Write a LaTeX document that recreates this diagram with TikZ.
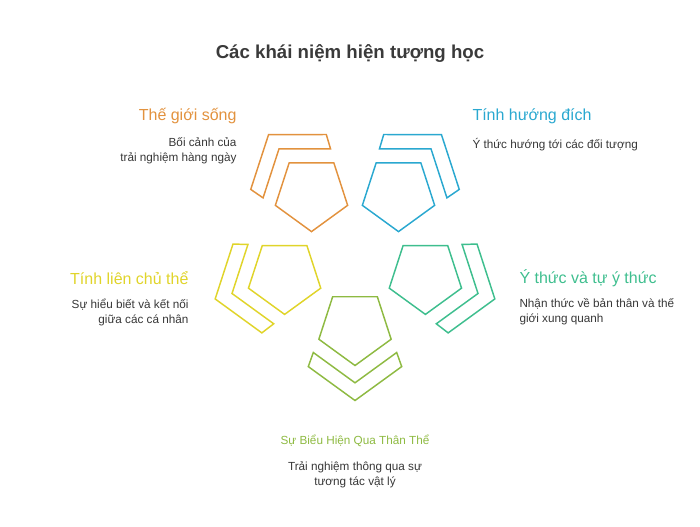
\documentclass[tikz,border=0pt]{standalone}
\usepackage{fontspec}
\setmainfont{Liberation Sans}
\usepackage{tikz}
\definecolor{titlegray}{RGB}{58,58,58}
\definecolor{notegray}{RGB}{55,55,55}
\definecolor{worldorange}{RGB}{226,146,62}
\definecolor{intentblue}{RGB}{42,168,208}
\definecolor{interyellow}{RGB}{224,212,42}
\definecolor{selfgreen}{RGB}{62,190,142}
\definecolor{bodyolive}{RGB}{142,186,66}
\tikzset{every picture/.style={line width=0.75pt}}

\begin{document}
\begin{tikzpicture}[x=0.75pt,y=0.75pt,yscale=-1,xscale=1,
    petal/.style={line width=1.1pt, line join=miter},
    heading/.style={inner sep=0.75pt, font=\fontsize{12}{14}\selectfont},
    note/.style={inner sep=0.75pt, font=\fontsize{8.8}{11.25}\selectfont, color=notegray}]
      \useasboundingbox (0,0) rectangle (700,527);
      % pentagon and chevron of each concept, local frame: chevron below
      \begin{scope}[shift={(355,327.5)}, rotate=0, color=bodyolive]
            \draw [petal] (0,38) -- (-36.14,11.74) -- (-22.34,-30.74) -- (22.34,-30.74) -- (36.14,11.74) -- cycle;
            \draw [petal] (-41.7,25) -- (0,55.3) -- (41.7,25) -- (46.7,39.1) -- (0,73) -- (-46.7,39.1) -- cycle;
      \end{scope}
      \begin{scope}[shift={(425.4,276.4)}, rotate=-72, color=selfgreen]
            \draw [petal] (0,38) -- (-36.14,11.74) -- (-22.34,-30.74) -- (22.34,-30.74) -- (36.14,11.74) -- cycle;
            \draw [petal] (-41.7,25) -- (0,55.3) -- (41.7,25) -- (46.7,39.1) -- (0,73) -- (-46.7,39.1) -- cycle;
      \end{scope}
      \begin{scope}[shift={(398.5,193.6)}, rotate=-144, color=intentblue]
            \draw [petal] (0,38) -- (-36.14,11.74) -- (-22.34,-30.74) -- (22.34,-30.74) -- (36.14,11.74) -- cycle;
            \draw [petal] (-41.7,25) -- (0,55.3) -- (41.7,25) -- (46.7,39.1) -- (0,73) -- (-46.7,39.1) -- cycle;
      \end{scope}
      \begin{scope}[shift={(311.5,193.6)}, rotate=144, color=worldorange]
            \draw [petal] (0,38) -- (-36.14,11.74) -- (-22.34,-30.74) -- (22.34,-30.74) -- (36.14,11.74) -- cycle;
            \draw [petal] (-41.7,25) -- (0,55.3) -- (41.7,25) -- (46.7,39.1) -- (0,73) -- (-46.7,39.1) -- cycle;
      \end{scope}
      \begin{scope}[shift={(284.6,276.4)}, rotate=72, color=interyellow]
            \draw [petal] (0,38) -- (-36.14,11.74) -- (-22.34,-30.74) -- (22.34,-30.74) -- (36.14,11.74) -- cycle;
            \draw [petal] (-41.7,25) -- (0,55.3) -- (41.7,25) -- (46.7,39.1) -- (0,73) -- (-46.7,39.1) -- cycle;
      \end{scope}
      % texts
      \draw (350,53.5) node (title) [inner sep=0.75pt] [font=\bfseries\fontsize{14}{16}\selectfont, color=titlegray] {Các khái niệm hiện tượng học};
      \draw (238,116.5) node (worldHead) [anchor=east] [heading, color=worldorange] {Thế giới sống};
      \draw (238,151) node (worldNote) [anchor=east] [note, align=right] {Bối cảnh của\\trải nghiệm hàng ngày};
      \draw (471,116.5) node (intentHead) [anchor=west] [heading, color=intentblue] {Tính hướng đích};
      \draw (471,145) node (intentNote) [anchor=west] [note, align=left] {Ý thức hướng tới các đối tượng};
      \draw (190,278) node (interHead) [anchor=east] [heading, color=interyellow] {Tính liên chủ thể};
      \draw (190,312) node (interNote) [anchor=east] [note, align=right] {Sự hiểu biết và kết nối\\giữa các cá nhân};
      \draw (518,278) node (selfHead) [anchor=west] [heading, color=selfgreen] {Ý thức và tự ý thức};
      \draw (518,312) node (selfNote) [anchor=west] [note, align=left] {Nhận thức về bản thân và thế\\giới xung quanh};
      \draw (355,441) node (bodyHead) [inner sep=0.75pt] [font=\fontsize{8.8}{11}\selectfont, color=bodyolive] {Sự Biểu Hiện Qua Thân Thể};
      \draw (355,475) node (bodyNote) [note, align=center] {Trải nghiệm thông qua sự\\tương tác vật lý};
\end{tikzpicture}
\end{document}
